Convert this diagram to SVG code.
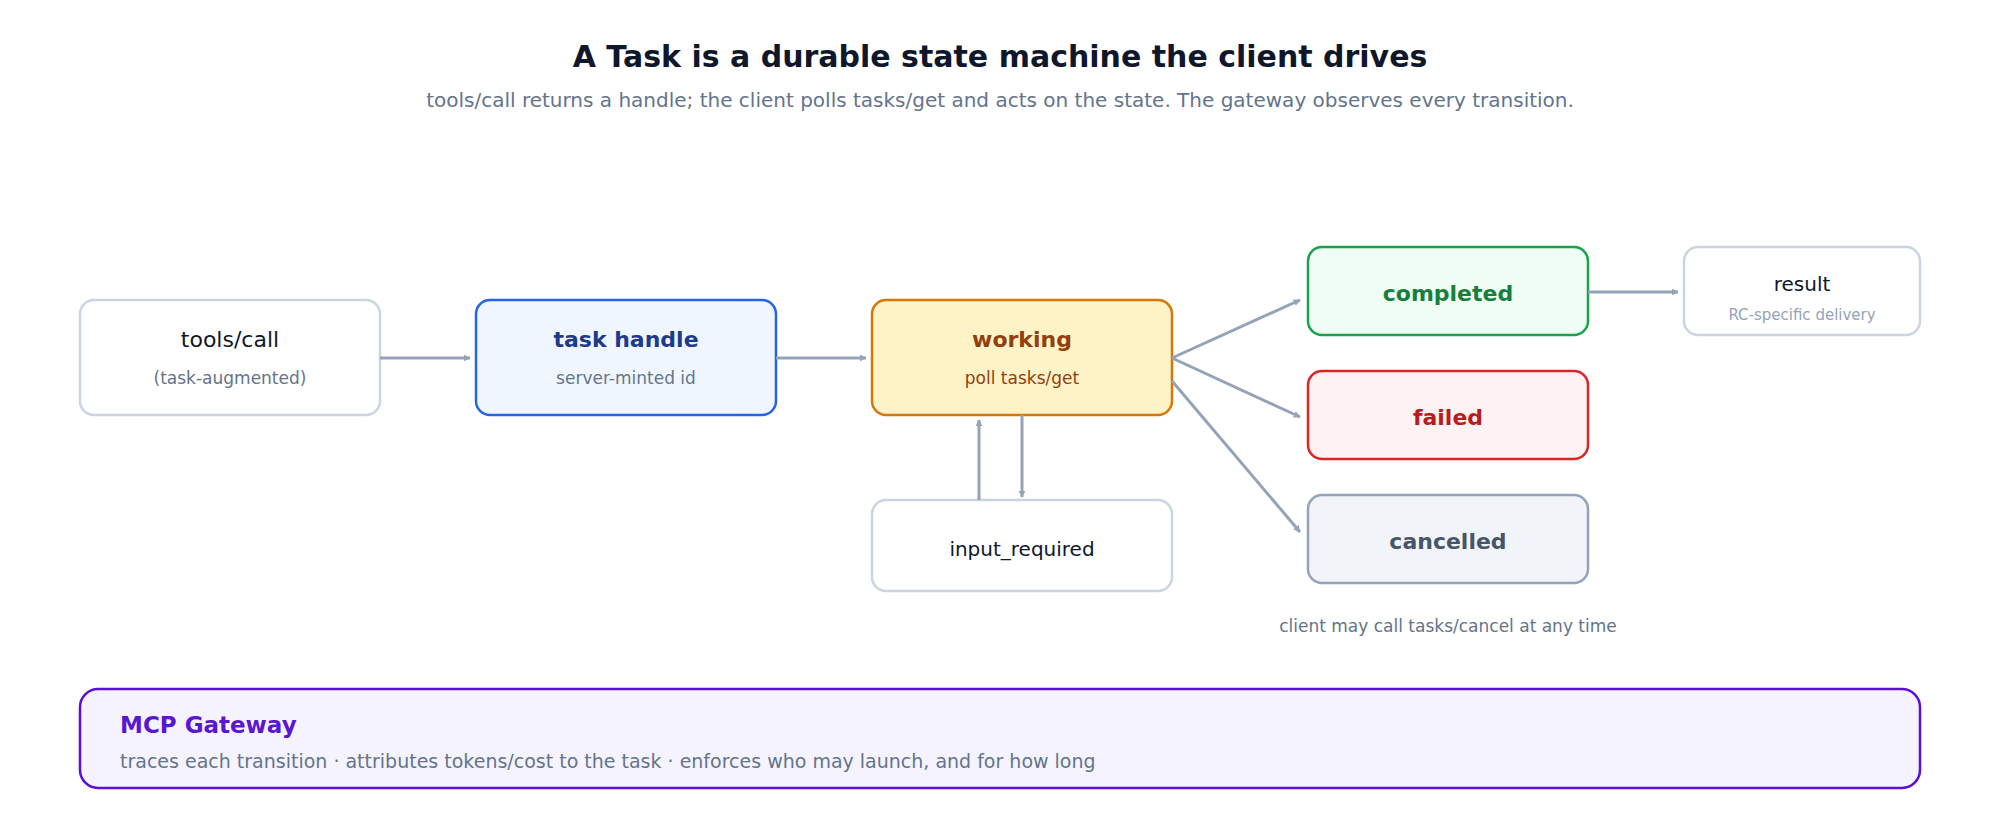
<svg xmlns="http://www.w3.org/2000/svg" width="2000" height="840" viewBox="0 0 2000 840">
<style>
text{font-family:"DejaVu Sans",sans-serif;text-anchor:middle}
.t{font-size:22px;fill:#0f172a}
.b{font-weight:bold}
.s{font-size:17px;fill:#64748b}
.e{stroke:#94a3b8;stroke-width:3;fill:none;marker-end:url(#a)}
</style>
<defs><marker id="a" viewBox="0 0 10 10" refX="9" refY="5" markerWidth="7" markerHeight="7" markerUnits="userSpaceOnUse" orient="auto"><path d="M0,0L10,5L0,10z" fill="#94a3b8" transform="scale(1)"/></marker></defs>
<rect width="2000" height="840" fill="#fff"/>
<text x="1000" y="67" font-size="30" font-weight="bold" fill="#0f172a">A Task is a durable state machine the client drives</text>
<text x="1000" y="107" font-size="20" fill="#64748b">tools/call returns a handle; the client polls tasks/get and acts on the state. The gateway observes every transition.</text>
<g id="tools-call"><rect x="80" y="300" width="300" height="115" rx="14" fill="#fff" stroke="#cbd5e1" stroke-width="2.5"/><text class="t" x="230" y="347">tools/call</text><text class="s" x="230" y="384">(task-augmented)</text></g>
<g id="task-handle"><rect x="476" y="300" width="300" height="115" rx="14" fill="#eff6ff" stroke="#2563eb" stroke-width="2.5"/><text class="t b" x="626" y="347" fill="#1e3a8a" style="fill:#1e3a8a">task handle</text><text class="s" x="626" y="384">server-minted id</text></g>
<g id="working"><rect x="872" y="300" width="300" height="115" rx="14" fill="#fef3c7" stroke="#d97706" stroke-width="2.5"/><text class="t b" x="1022" y="347" style="fill:#92400e">working</text><text class="s" x="1022" y="384" style="fill:#92400e">poll tasks/get</text></g>
<g id="input-required"><rect x="872" y="500" width="300" height="91" rx="14" fill="#fff" stroke="#cbd5e1" stroke-width="2.5"/><text x="1022" y="556" font-size="20" fill="#0f172a">input_required</text></g>
<g id="completed"><rect x="1308" y="247" width="280" height="88" rx="14" fill="#f0fdf4" stroke="#16a34a" stroke-width="2.5"/><text class="t b" x="1448" y="301" style="fill:#15803d">completed</text></g>
<g id="failed"><rect x="1308" y="371" width="280" height="88" rx="14" fill="#fef2f2" stroke="#dc2626" stroke-width="2.5"/><text class="t b" x="1448" y="425" style="fill:#b91c1c">failed</text></g>
<g id="cancelled"><rect x="1308" y="495" width="280" height="88" rx="14" fill="#f1f5f9" stroke="#94a3b8" stroke-width="2.5"/><text class="t b" x="1448" y="549" style="fill:#475569">cancelled</text></g>
<g id="result"><rect x="1684" y="247" width="236" height="88" rx="14" fill="#fff" stroke="#cbd5e1" stroke-width="2.5"/><text x="1802" y="291" font-size="20" fill="#0f172a">result</text><text x="1802" y="320" font-size="15" fill="#94a3b8">RC-specific delivery</text></g>
<text x="1448" y="632" font-size="17" fill="#64748b">client may call tasks/cancel at any time</text>
<g id="connectors">
<path class="e" d="M380,358H470"/>
<path class="e" d="M776,358H866"/>
<path class="e" d="M1172,358L1300,300"/>
<path class="e" d="M1172,358L1300,417"/>
<path class="e" d="M1172,381L1300,532"/>
<path class="e" d="M979,500V420"/>
<path class="e" d="M1022,415V497"/>
<path class="e" d="M1588,292H1678"/>
</g>
<g id="gateway"><rect x="80" y="689" width="1840" height="99" rx="18" fill="#f5f3ff" stroke="#6d28d9" stroke-width="2.5" style="stroke:#5b0fd9"/><text x="120" y="733" font-size="23" font-weight="bold" fill="#5b16d0" style="text-anchor:start">MCP Gateway</text><text x="120" y="768" font-size="19" fill="#64748b" style="text-anchor:start">traces each transition · attributes tokens/cost to the task · enforces who may launch, and for how long</text></g>
</svg>
